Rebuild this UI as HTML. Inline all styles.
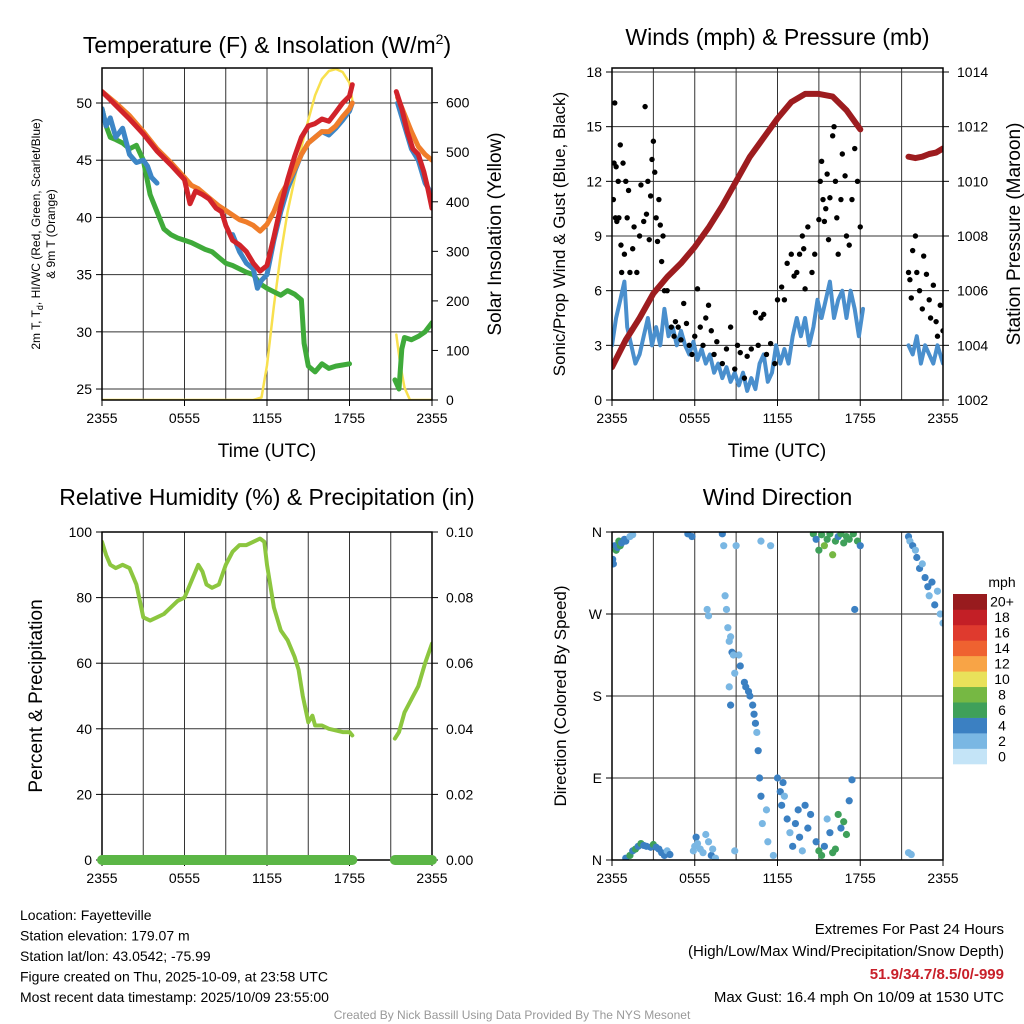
<!DOCTYPE html>
<html><head><meta charset="utf-8">
<style>
html,body{margin:0;padding:0;background:#fff;}
svg{display:block;font-family:"Liberation Sans",Arial,sans-serif;}
</style></head>
<body>
<svg id="chart" width="1024" height="1024" viewBox="0 0 1024 1024" xmlns="http://www.w3.org/2000/svg"></svg>
<script>
// ---------- DATA ----------
const timeTicks = [0, 6, 12, 18, 24];
const timeTickLabels = ['2355', '0555', '1155', '1755', '2355'];
const tempTicks = [25, 30, 35, 40, 45, 50];
const solarTicks = [0, 100, 200, 300, 400, 500, 600];
const windTicks = [0, 3, 6, 9, 12, 15, 18];
const pressTicks = [1002, 1004, 1006, 1008, 1010, 1012, 1014];
const rhTicks = [0, 20, 40, 60, 80, 100];
const precipTicks = [0, 0.02, 0.04, 0.06, 0.08, 0.10];
const dirTicks = [0, 90, 180, 270, 360];
const dirTickLabels = ['N', 'E', 'S', 'W', 'N'];
const speedBinLabels = ['0', '2', '4', '6', '8', '10', '12', '14', '16', '18', '20+'];
const speedBinColors = ['#c4e4f7', '#7ab7e3', '#3b80c2', '#3fa05a', '#76b843', '#e9e15a', '#f8a446', '#ef6230', '#df3a2e', '#c31f26', '#981b1e'];

const greenTd = [[0,49.5],[0.3,48],[0.6,47],[1,46.8],[1.5,46.5],[2,46],[2.5,46.3],[3,45],[3.5,42],[4,40.5],[4.5,39],[5,38.5],[5.5,38.2],[6,38],[6.5,37.8],[7,37.5],[7.5,37.2],[8,37],[8.5,36.5],[9,36],[9.5,35.8],[10,35.5],[10.5,35.2],[11,35],[11.5,34.2],[12,33.8],[12.5,33.5],[13,33.2],[13.5,33.6],[14,33.3],[14.5,32.8],[14.7,29],[15,27],[15.5,26.5],[16,27.2],[16.5,26.8],[17,27],[17.5,27.1],[18,27.2],null,[21.3,25.8],[21.6,25],[21.8,28.5],[22,29.5],[22.5,29.3],[23,29.6],[23.5,30],[24,30.8]];
const blueHIWC = [[0,49.5],[0.3,48],[0.6,48.7],[1,47],[1.5,47.8],[2,45.5],[2.5,44.8],[3,45],[3.3,44.5],[3.6,43.5],[4,43],null,[9.5,38.5],[10,37],[10.5,36],[11,35.5],[11.3,33.8],[11.6,34.5],[12,35],[12.5,38],[13,40.5],[13.5,42.5],[14,44],[14.5,45.5],[15,46.5],[15.5,47],[16,47.5],[16.5,47.2],[17,47.8],[17.5,48.5],[18,49.3],[18.2,50],null,[21.5,50],[22,48],[22.5,46],[23,45],[23.5,43],[24,42]];
const orange9m = [[0,51],[0.5,50.5],[1,50],[2,48.9],[3,47.5],[4,46],[5,44.8],[6,43.5],[6.5,42.8],[7,42.5],[7.5,42],[8,41.5],[8.5,41],[9,40.6],[9.5,40.2],[10,39.8],[10.5,39.6],[11,39.3],[11.5,38.8],[12,39.4],[12.5,40.5],[13,42],[13.5,43],[14,44.2],[14.5,45.5],[15,46.5],[15.5,47],[16,47.5],[16.5,47.5],[17,48],[17.5,48.8],[18,49.5],[18.2,50],null,[21.5,50.5],[22,49],[22.5,47.5],[23,46.2],[23.5,45.5],[24,45]];
const redT = [[0,51],[0.5,50.4],[1,49.8],[2,48.6],[3,47.3],[4,45.8],[5,44.6],[6,43.3],[6.4,41.2],[6.8,42.3],[7.3,42],[7.8,41.6],[8.3,40.8],[8.7,40.5],[9,39.3],[9.5,38],[10,37.6],[10.5,37],[11,36],[11.5,35.3],[12,35.8],[12.5,38.3],[13,41],[13.5,43.3],[14,45.3],[14.5,47],[15,48],[15.5,48.2],[16,48.6],[16.5,48.4],[17,49.2],[17.5,50],[18,50.6],[18.2,51.6],null,[21.4,51],[21.8,49.5],[22.2,47.5],[22.6,46],[23,45.5],[23.4,44],[23.7,42.5],[24,40.8]];
const solar = [[0,0],[11,0],[11.6,5],[12,70],[12.5,190],[13,295],[13.5,380],[14,445],[14.5,510],[15,565],[15.5,615],[16,648],[16.5,664],[17,668],[17.5,662],[18,640],[18.2,605],null,[21.4,132],[21.7,70],[22,25],[22.4,0],[24,0]];

const pressure = [[0,1003.2],[0.5,1003.7],[1,1004.2],[2,1005.0],[3,1005.9],[4,1006.5],[5,1007.0],[6,1007.6],[7,1008.3],[8,1009.1],[9,1010.0],[10,1010.9],[11,1011.6],[12,1012.3],[13,1012.9],[14,1013.2],[15,1013.2],[16,1013.1],[17,1012.6],[18,1011.9],null,[21.5,1010.9],[22,1010.85],[22.5,1010.9],[23,1011.0],[23.5,1011.05],[24,1011.2]];
const sonicWind = [[0,3],[0.3,4.5],[0.6,5.5],[0.9,6.5],[1.1,4],[1.4,3],[1.7,2],[2,2.5],[2.3,3.5],[2.6,4.5],[2.9,3],[3.2,4],[3.5,3],[3.8,5],[4.1,3.5],[4.4,4],[4.7,3],[5,3.8],[5.3,3],[5.6,2.5],[5.9,3.2],[6.2,2.2],[6.5,2.8],[6.8,2],[7.1,2.5],[7.4,1.5],[7.7,2],[8,1.2],[8.3,1.8],[8.6,1],[8.9,1.5],[9.2,0.8],[9.5,1.5],[9.8,0.5],[10.1,1.2],[10.4,0.6],[10.7,2],[11,2.5],[11.3,1],[11.6,1.5],[11.9,3],[12.2,2],[12.5,2.8],[12.8,2],[13.1,3.5],[13.4,4.5],[13.7,3.5],[14,4.5],[14.3,3],[14.6,4],[14.9,5.5],[15.2,4.5],[15.5,5.5],[15.8,6.5],[16.1,4.5],[16.4,5.5],[16.7,6],[17,4.5],[17.3,6],[17.6,5],[17.9,3.5],[18.2,5],null,[21.5,3],[21.8,2.5],[22.1,3.5],[22.4,2],[22.7,3],[23,2.5],[23.3,2],[23.6,3],[24,2]];
const gusts = [[0.1,11],[0.15,13],[0.2,16.3],[0.25,10],[0.3,12.8],[0.35,9.8],[0.45,12],[0.5,10],[0.6,14],[0.65,8.5],[0.7,7],[0.8,13],[0.9,8],[1.0,12],[1.1,10],[1.2,11.5],[1.3,7],[1.5,8.3],[1.6,9.5],[1.8,7],[2.0,9],[2.1,11.8],[2.3,9.8],[2.4,16.1],[2.5,10.2],[2.6,12],[2.7,8.8],[2.8,11.2],[2.9,13.2],[3.0,14.2],[3.1,12.5],[3.2,10],[3.3,8.7],[3.4,11],[3.5,9.6],[3.6,7.6],[3.7,9],[3.8,6],[4.0,6],[4.3,4],[4.5,3.5],[4.6,4.3],[4.8,4],[5.0,3.3],[5.2,5.3],[5.4,4.2],[5.6,3],[5.8,2.5],[6.0,3.5],[6.2,6.1],[6.4,4],[6.6,3],[6.8,4.5],[7.0,5.2],[7.2,3.8],[7.4,2.5],[7.6,3.2],[8.0,2],[8.3,2.8],[8.6,4],[8.9,1.7],[9.1,3],[9.3,2.6],[9.6,1.2],[9.8,2.4],[10.1,2.8],[10.4,4.8],[10.6,3],[10.8,4.5],[11.0,4.7],[11.2,2.5],[11.5,3.1],[11.8,2],[12.0,5.5],[12.3,6.2],[12.5,5.5],[12.7,7.5],[13.0,8],[13.2,6.8],[13.4,7],[13.6,8],[13.8,9],[13.9,8.3],[14.0,6.1],[14.2,9.5],[14.5,7],[14.7,8],[15.0,9.9],[15.1,12],[15.2,13.1],[15.3,11],[15.4,9.8],[15.5,10.5],[15.6,12.4],[15.7,8.8],[15.8,11.1],[16.0,14.5],[16.1,15],[16.2,12],[16.3,10],[16.4,8],[16.6,11],[16.7,13.5],[16.9,12.3],[17.0,9],[17.2,8.5],[17.4,11],[17.6,13.8],[17.8,12],[18.0,9.5],[21.5,7],[21.6,6.6],[21.7,5.6],[21.8,8.2],[22.0,9],[22.1,7],[22.3,6],[22.5,5],[22.6,7.9],[22.8,6.9],[23.0,5.5],[23.1,4.5],[23.3,6.3],[23.5,4.3],[23.6,3.5],[23.8,5.2],[24,3.8]];

const rh = [[0,97],[0.3,93],[0.6,90],[1,89],[1.5,90],[2,89],[2.5,84],[3,74],[3.5,73],[4,74],[4.5,75],[5,77],[5.5,79],[6,80],[6.5,85],[7,90],[7.3,88],[7.6,84],[8,83],[8.5,84],[9,90],[9.5,94],[10,96],[10.5,96],[11,97],[11.5,98],[11.8,97],[12,90],[12.5,77],[13,70],[13.5,67],[14,62],[14.3,58],[14.6,50],[15,42],[15.3,44],[15.5,41],[16,41],[16.5,40],[17,39.5],[17.5,39],[18,39],[18.2,38],null,[21.3,37],[21.6,39],[22,45],[22.5,49],[23,53],[23.5,60],[24,66]];
const precip = [[0,0],[18.2,0],null,[21.3,0],[24,0]];

const windDir = [[0.05,330,4],[0.1,325,4],[0.2,345,3],[0.3,340,6],[0.4,343,4],[0.5,350,5],[0.6,345,6],[0.7,348,4],[0.9,352,3],[1.0,350,3],[1.3,355,2],[1.5,357,2],[1.0,2,4],[1.3,5,5],[1.5,10,3],[1.7,12,6],[1.9,15,4],[2.1,18,6],[2.3,16,4],[2.5,15,4],[2.8,14,3],[3.0,17,5],[3.2,14,4],[3.4,12,4],[3.6,8,4],[3.8,5,3],[4.0,10,2],[4.2,6,3],[5.5,358,3],[5.8,355,3],[5.9,10,2],[6.0,15,2],[6.1,25,3],[6.2,18,2],[6.4,12,2],[6.6,8,1],[6.8,28,2],[7.0,20,2],[7.2,5,3],[7.3,12,2],[7.5,2,1],[6.9,275,2],[7.0,268,1],[8.0,358,3],[8.1,345,1],[8.2,290,1],[8.3,275,2],[8.4,255,1],[8.5,240,2],[8.6,245,1],[8.7,228,3],[8.8,225,2],[8.9,205,1],[8.5,190,2],[8.6,170,3],[8.9,10,2],[9.0,345,1],[9.2,225,2],[9.3,213,3],[9.6,195,4],[9.7,190,4],[9.9,185,4],[10.0,180,3],[10.2,170,3],[10.3,160,3],[10.4,150,3],[10.5,140,2],[10.6,120,3],[10.7,90,4],[10.8,70,3],[10.9,40,2],[10.8,350,2],[11.2,55,2],[11.3,20,1],[11.5,345,1],[11.7,5,2],[12.0,90,4],[12.2,75,3],[12.3,60,4],[12.4,85,3],[12.5,70,2],[12.7,45,3],[12.9,30,2],[13.1,15,3],[13.3,40,4],[13.5,55,4],[13.6,25,3],[13.8,10,2],[14.0,60,3],[14.2,35,4],[14.4,50,4],[14.6,358,6],[14.8,352,4],[15.0,340,5],[15.2,357,6],[15.4,345,7],[15.6,352,6],[15.8,358,5],[16.0,335,7],[16.2,350,6],[16.4,355,4],[16.6,358,6],[16.8,348,5],[17.0,355,6],[17.2,352,5],[17.5,358,5],[17.8,350,6],[18.0,345,4],[14.8,20,4],[15.0,10,5],[15.2,5,6],[15.4,15,4],[15.6,45,2],[15.8,30,4],[16.0,8,6],[16.2,12,5],[16.4,50,6],[16.6,35,4],[16.8,42,6],[17.0,28,6],[17.2,65,4],[17.4,88,4],[17.6,275,4],[21.5,355,3],[21.6,350,2],[21.8,345,4],[22.0,340,2],[22.1,332,3],[22.3,320,4],[22.5,325,2],[22.7,310,3],[22.9,300,4],[23.0,290,2],[23.2,305,3],[23.4,280,4],[23.6,295,2],[23.8,270,2],[24,260,2],[21.5,8,2],[21.7,6,2]];

// ---------- HELPERS ----------
const NS = 'http://www.w3.org/2000/svg';
const svg = document.getElementById('chart');
function mk(tag, attrs, parent, name) {
  const e = document.createElementNS(NS, tag);
  for (const k in attrs) e.setAttribute(k, attrs[k]);
  
  
  (parent || svg).appendChild(e);
  return e;
}
function txt(x, y, s, size, anchor, parent, name, extra) {
  const t = mk('text', Object.assign({x: x, y: y, 'font-size': size, 'text-anchor': anchor || 'middle', fill: '#000'}, extra || {}), parent, name);
  t.textContent = s;
  return t;
}
function lin(d0, d1, r0, r1) { return v => r0 + (v - d0) / (d1 - d0) * (r1 - r0); }
function pathD(arr, sx, sy) {
  let d = '', pen = false;
  for (const p of arr) {
    if (!p) { pen = false; continue; }
    d += (pen ? 'L' : 'M') + sx(p[0]).toFixed(1) + ',' + sy(p[1]).toFixed(1);
    pen = true;
  }
  return d;
}

function panel(cfg) {
  const g = mk('g', {}, svg, cfg.name);
  const {x0, x1, y0, y1} = cfg;
  const sx = lin(0, 24, x0, x1);
  const sy = lin(cfg.lmin, cfg.lmax, y1, y0);
  const sr = cfg.rmin !== undefined ? lin(cfg.rmin, cfg.rmax, y1, y0) : null;
  for (let h = 3; h < 24; h += 3) {
    mk('line', {x1: sx(h), x2: sx(h), y1: y0, y2: y1, stroke: '#333', 'stroke-width': 1}, g, 'grid-v');
  }
  cfg.lticks.forEach((v, i) => {
    const y = sy(v);
    if (v > cfg.lmin && v < cfg.lmax) mk('line', {x1: x0, x2: x1, y1: y, y2: y, stroke: '#333', 'stroke-width': 1}, g, 'grid-h');
    mk('line', {x1: x0 - 6, x2: x0, y1: y, y2: y, stroke: '#000'}, g, 'y-tick');
    txt(x0 - 10, y + 5, cfg.llabels ? cfg.llabels[i] : String(v), 14, 'end', g, 'y-tick-label');
  });
  if (sr) cfg.rticks.forEach((v, i) => {
    const y = sr(v);
    mk('line', {x1: x1, x2: x1 + 6, y1: y, y2: y, stroke: '#000'}, g, 'y2-tick');
    txt(x1 + 14, y + 5, cfg.rlabels ? cfg.rlabels[i] : String(v), 14, 'start', g, 'y2-tick-label');
  });
  timeTicks.forEach((h, i) => {
    mk('line', {x1: sx(h), x2: sx(h), y1: y1, y2: y1 + 6, stroke: '#000'}, g, 'x-tick');
    txt(sx(h), y1 + 23, timeTickLabels[i], 14, 'middle', g, 'x-tick-label');
  });
  txt((x0 + x1) / 2, cfg.titleY, cfg.title, 23, 'middle', g, 'panel-title');
  const clip = mk('clipPath', {id: cfg.name + '-clip'}, g, 'clip');
  mk('rect', {x: x0, y: y0, width: x1 - x0, height: y1 - y0}, clip, 'clip-rect');
  const plot = mk('g', {'clip-path': 'url(#' + cfg.name + '-clip)'}, g, 'plot-area');
  return {g, plot, sx, sy, sr, frame: () => mk('rect', {x: x0, y: y0, width: x1 - x0, height: y1 - y0, fill: 'none', stroke: '#000', 'stroke-width': 1.5}, g, 'plot-frame')};
}
function series(p, arr, sy, color, w, name) {
  mk('path', {d: pathD(arr, p.sx, sy), fill: 'none', stroke: color, 'stroke-width': w, 'stroke-linejoin': 'round', 'stroke-linecap': 'round'}, p.plot, name);
}

// ---------- PANEL 1: Temperature ----------
const p1 = panel({name: 'temperature-panel', x0: 102, x1: 432, y0: 68, y1: 400, lmin: 24.04, lmax: 53.06, rmin: 0, rmax: 670, lticks: tempTicks, rticks: solarTicks, title: '', titleY: 52});
const t1 = txt(267, 53, 'Temperature (F) & Insolation (W/m', 23, 'middle', p1.g, 'panel-title');
const sup = mk('tspan', {dy: -9, 'font-size': 14}, t1, 'superscript');
sup.textContent = '2';
const cl = mk('tspan', {dy: 9}, t1, 'title-close');
cl.textContent = ')';
series(p1, solar, p1.sr, '#f8e04e', 2.5, 'solar-insolation-line');
series(p1, greenTd, p1.sy, '#3faa3a', 5, 'dewpoint-line');
series(p1, blueHIWC, p1.sy, '#3d86c6', 5, 'windchill-line');
series(p1, orange9m, p1.sy, '#f07d2a', 5, 'temp-9m-line');
series(p1, redT, p1.sy, '#d1232a', 5, 'temp-2m-line');
p1.frame();
txt(267, 457, 'Time (UTC)', 19, 'middle', p1.g, 'x-axis-title');
const yl1 = mk('g', {transform: 'translate(40,234) rotate(-90)'}, p1.g, 'y-axis-title');
txt(0, 0, '2m T, T', 12, 'middle', yl1, 'y-axis-title-line1').innerHTML = '2m T, T<tspan font-size="9" dy="3">d</tspan><tspan dy="-3">, HI/WC (Red, Green, Scarlet/Blue)</tspan>';
txt(0, 15, '& 9m T (Orange)', 12, 'middle', yl1, 'y-axis-title-line2');
txt(0, 0, 'Solar Insolation (Yellow)', 19, 'middle', p1.g, 'y2-axis-title', {transform: 'translate(501,234) rotate(-90)'});

// ---------- PANEL 2: Winds ----------
const p2 = panel({name: 'winds-panel', x0: 612, x1: 943, y0: 68, y1: 400, lmin: 0, lmax: 18.22, rmin: 1002, rmax: 1014.146, lticks: windTicks, rticks: pressTicks, title: 'Winds (mph) & Pressure (mb)', titleY: 45});
series(p2, sonicWind, p2.sy, '#4a8fcd', 4, 'sonic-wind-line');
gusts.forEach(d => {
  mk('circle', {cx: p2.sx(d[0]), cy: p2.sy(d[1]), r: 2.7, fill: '#000'}, p2.plot, 'gust-point');
});
series(p2, pressure, p2.sr, '#9d1c1f', 6, 'pressure-line');
p2.frame();
txt(777, 457, 'Time (UTC)', 19, 'middle', p2.g, 'x-axis-title');
txt(0, 0, 'Sonic/Prop Wind & Gust (Blue, Black)', 17, 'middle', p2.g, 'y-axis-title', {transform: 'translate(565,234) rotate(-90)'});
txt(0, 0, 'Station Pressure (Maroon)', 19, 'middle', p2.g, 'y2-axis-title', {transform: 'translate(1020,234) rotate(-90)'});

// ---------- PANEL 3: RH ----------
const p3 = panel({name: 'humidity-panel', x0: 102, x1: 432, y0: 532, y1: 860, lmin: 0, lmax: 100, rmin: 0, rmax: 0.1, lticks: rhTicks, rticks: precipTicks, rlabels: precipTicks.map(v => v.toFixed(2)), title: 'Relative Humidity (%) & Precipitation (in)', titleY: 505});
series(p3, rh, p3.sy, '#8cc63f', 4, 'rh-line');
p3.frame();
mk('path', {d: pathD(precip, p3.sx, p3.sr), fill: 'none', stroke: '#5bb646', 'stroke-width': 10, 'stroke-linecap': 'round'}, p3.g, 'precip-line');
txt(0, 0, 'Percent & Precipitation', 19, 'middle', p3.g, 'y-axis-title', {transform: 'translate(42,696) rotate(-90)'});

// ---------- PANEL 4: Wind direction ----------
const p4 = panel({name: 'wind-direction-panel', x0: 612, x1: 943, y0: 532, y1: 860, lmin: 0, lmax: 360, lticks: dirTicks, llabels: dirTickLabels, title: 'Wind Direction', titleY: 505});
windDir.forEach(d => {
  const bin = Math.min(10, Math.floor((d[2] + 1) / 2));
  mk('circle', {cx: p4.sx(d[0]), cy: p4.sy(d[1]), r: 3.6, fill: speedBinColors[bin]}, p4.plot, 'direction-point');
});
p4.frame();
txt(0, 0, 'Direction (Colored By Speed)', 17, 'middle', p4.g, 'y-axis-title', {transform: 'translate(566,696) rotate(-90)'});
const cb = mk('g', {}, svg, 'speed-colorbar');
txt(1002, 587, 'mph', 14, 'middle', cb, 'colorbar-title');
const binH = 170 / 11;
speedBinLabels.forEach((lab, i) => {
  const y = 594 + (10 - i) * binH;
  mk('rect', {x: 953, y: y, width: 34, height: binH + 0.3, fill: speedBinColors[i]}, cb, 'colorbar-bin');
  txt(1002, y + binH / 2 + 5, lab, 14, 'middle', cb, 'colorbar-label');
});

// ---------- FOOTER ----------
const ft = mk('g', {}, svg, 'footer-info');
['Location: Fayetteville', 'Station elevation: 179.07 m', 'Station lat/lon: 43.0542; -75.99', 'Figure created on Thu, 2025-10-09, at 23:58 UTC', 'Most recent data timestamp: 2025/10/09 23:55:00'].forEach((s, i) => {
  txt(20, 920 + i * 20.5, s, 14, 'start', ft, 'station-info-line');
});
txt(1004, 934, 'Extremes For Past 24 Hours', 15, 'end', ft, 'extremes-title');
txt(1004, 956, '(High/Low/Max Wind/Precipitation/Snow Depth)', 15, 'end', ft, 'extremes-subtitle');
txt(1004, 979, '51.9/34.7/8.5/0/-999', 15, 'end', ft, 'extremes-values', {fill: '#c8202a', 'font-weight': 'bold'});
txt(1004, 1002, 'Max Gust: 16.4 mph On 10/09 at 1530 UTC', 15, 'end', ft, 'max-gust');
txt(512, 1019, 'Created By Nick Bassill Using Data Provided By The NYS Mesonet', 12, 'middle', ft, 'credit', {fill: '#999'});
</script>
</body></html>
